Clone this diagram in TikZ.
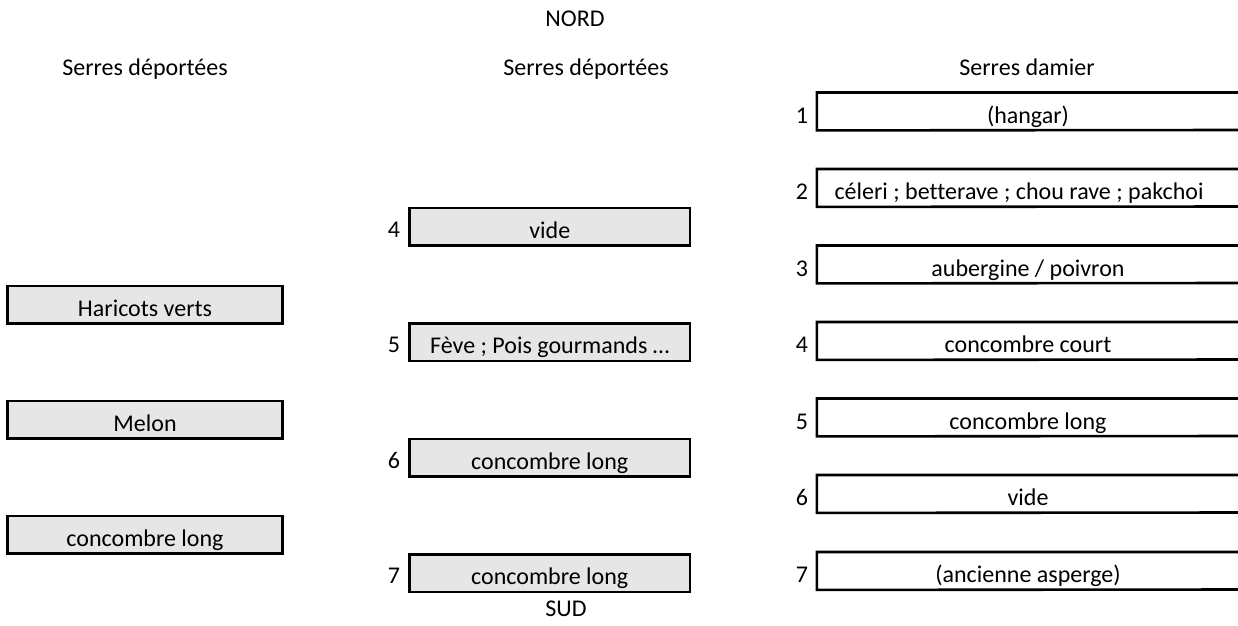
\documentclass[tikz,border=0pt]{standalone}
\usepackage{fontspec}
\setmainfont[Ligatures=NoCommon]{Carlito}
\definecolor{cellgray}{HTML}{E6E6E6}
\tikzset{
  every node/.style={font=\fontsize{24}{28}\selectfont},
  % grey greenhouse cell, text sits 7pt above the bottom edge
  gbox/.style={draw=black, fill=cellgray, line width=2.6pt, inner sep=0pt,
    text height=30.5pt, text depth=7pt, align=center},
  leftbox/.style={gbox, minimum width=274.8pt},
  midbox/.style={gbox, minimum width=280.5pt},
  % open-ended cell of the checkerboard greenhouses
  openbox/.style={inner sep=0pt, text height=30.5pt, text depth=7pt,
    minimum width=422pt, align=center},
  num/.style={anchor=base, inner sep=0pt},
  head/.style={anchor=base, inner sep=0pt},
  edge/.style={line width=2.6pt}
}
\begin{document}
\begin{tikzpicture}[x=1pt, y=-1pt]
\useasboundingbox (0,0) rectangle (1238,625);

% compass labels
\node[head] (nord) at (575,26.7) {NORD};
\node[head] (sud)  at (566,616)  {SUD};

% column headings
\node[head] (h1) at (145,75)  {Serres déportées};
\node[head] (h2) at (586,75)  {Serres déportées};
\node[head] (h3) at (1027,75) {Serres damier};

% left column
\node[leftbox, anchor=north] (l1) at (145,284.5) {Haricots verts};
\node[leftbox, anchor=north] (l2) at (145,399.5) {Melon};
\node[leftbox, anchor=north] (l3) at (145,514.5) {concombre long};

% middle column
\node[midbox, anchor=north] (m4) at (549.75,206.5) {vide};
\node[midbox, anchor=north] (m5) at (549.75,322)   {Fève ; Pois gourmands …};
\node[midbox, anchor=north] (m6) at (549.75,437.5) {concombre long};
\node[midbox, anchor=north] (m7) at (549.75,553)   {concombre long};
\foreach \n/\y in {4/206.5,5/322,6/437.5,7/553}
  \node[num] (mn\n) at (394,\y+30.5) {\n};

% right column
\node[openbox, anchor=north] (r1) at (1028,92.5)  {(hangar)};
\node[openbox, anchor=north] (r2) at (1028,169)   {\hspace*{-18pt}céleri ; betterave ; chou rave ; pakchoi};
\node[openbox, anchor=north] (r3) at (1028,245.5) {aubergine / poivron};
\node[openbox, anchor=north] (r4) at (1028,322)   {concombre court};
\node[openbox, anchor=north] (r5) at (1028,398.5) {concombre long};
\node[openbox, anchor=north] (r6) at (1028,475)   {vide};
\node[openbox, anchor=north] (r7) at (1028,552)   {(ancienne asperge)};
\foreach \n/\y in {1/92.5,2/169,3/245.5,4/322,5/398.5,6/475,7/552}{
  \node[num] (rn\n) at (802,\y+30.5) {\n};
  \draw[edge] (1238,\y) -- (r\n.north west) -- (r\n.south west) -- (1238,\y+37.5);
}
\end{tikzpicture}
\end{document}
